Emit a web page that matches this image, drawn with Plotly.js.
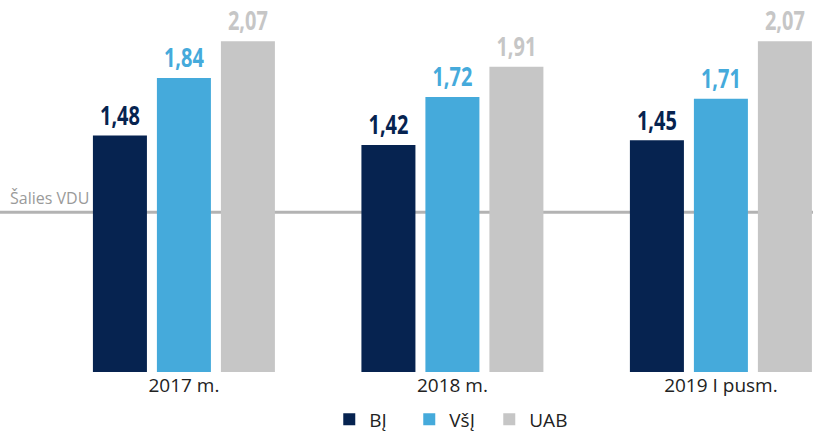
<!DOCTYPE html>
<html>
<head>
<meta charset="utf-8">
<script src="https://cdn.plot.ly/plotly-3.0.1.min.js"></script>
<style>html,body{margin:0;padding:0;background:#fff;}#chart{width:813px;height:441px;}</style>
</head>
<body>
<div id="chart"></div>
<script>
const categories = ["2017 m.", "2018 m.", "2019 I pusm."];
const seriesNames = ["BĮ", "VšĮ", "UAB"];
const bjValues = [1.48, 1.42, 1.45];
const vsjValues = [1.84, 1.72, 1.71];
const uabValues = [2.07, 1.91, 2.07];
const countryAverage = 1.0;
const countryLabel = "Šalies VDU";

const colors = ["#062350", "#45aadb", "#c6c6c6"];
const fmt = v => v.toFixed(2).replace('.', ',');

const allValues = [bjValues, vsjValues, uabValues];
const traces = allValues.map((vals, i) => ({
  type: 'bar',
  name: seriesNames[i],
  x: categories,
  y: vals,
  text: vals.map(fmt),
  textposition: 'outside',
  cliponaxis: false,
  textfont: {family: '"Open Sans", sans-serif', size: 28, weight: 'bold', color: colors[i]},
  marker: {color: colors[i]},
  hoverinfo: 'none'
}));

const layout = {
  width: 813, height: 441,
  margin: {l: 0, r: 0, t: 22, b: 69},
  paper_bgcolor: '#fff', plot_bgcolor: '#fff',
  barmode: 'group',
  bargap: 0.285,
  bargroupgap: 0.156,
  showlegend: true,
  legend: {orientation: 'h', x: 0.405, xanchor: 'left', y: -0.19, yanchor: 'bottom', entrywidth: 35,
    font: {family: '"Open Sans", sans-serif', size: 19, color: '#222'}, itemwidth: 30, traceorder: 'normal'},
  xaxis: {type: 'category', range: [-0.685, 2.343], showgrid: false, zeroline: false, showline: false,
    ticks: '', tickfont: {family: '"Open Sans", sans-serif', size: 19, color: '#222'}, fixedrange: true},
  yaxis: {range: [0, 2.19], visible: false, showgrid: false, zeroline: false, fixedrange: true},
  shapes: [{type: 'line', xref: 'paper', x0: 0, x1: 1, yref: 'y', y0: countryAverage, y1: countryAverage,
    line: {color: '#b3b3b3', width: 3}, layer: 'below'}],
  annotations: [{xref: 'paper', x: 0.01, xanchor: 'left', yref: 'y', y: countryAverage, yanchor: 'bottom', yshift: 1,
    text: countryLabel, showarrow: false, font: {family: '"Open Sans", sans-serif', size: 16, color: '#9a9a9a'}}]
};

Plotly.newPlot('chart', traces, layout, {displayModeBar: false, staticPlot: true}).then(gd => {
  // condense the bold value labels horizontally (the reference uses a condensed face)
  gd.querySelectorAll('text.bartext').forEach(t => {
    const w = t.getComputedTextLength();
    t.setAttribute('textLength', (w * 0.74).toFixed(1));
    t.setAttribute('lengthAdjust', 'spacingAndGlyphs');
  });
});
</script>
</body>
</html>
